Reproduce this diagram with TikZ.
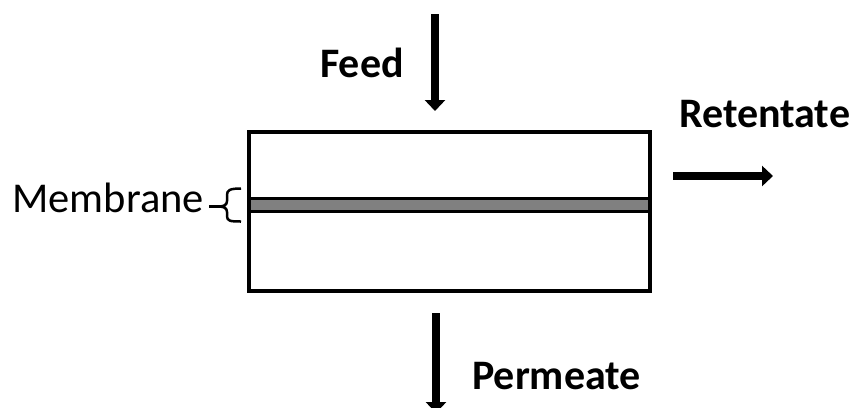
\documentclass[tikz,border=0pt]{standalone}
\usepackage{fontspec}
\setmainfont{Carlito}
\usetikzlibrary{arrows.meta}
\definecolor{membgray}{RGB}{128,128,128}
\tikzset{
  lbl/.style={inner sep=0pt, font=\fontsize{42bp}{50bp}\selectfont\bfseries},
  lblreg/.style={inner sep=0pt, font=\fontsize{42.5bp}{50bp}\selectfont},
  flow/.style={line width=8bp, -{Triangle[width=20bp,length=11bp]}},
  boxline/.style={line width=4bp},
}
\begin{document}
\begin{tikzpicture}[x=1bp,y=-1bp]
\useasboundingbox (0,0) rectangle (851,407);
\clip (0,0) rectangle (851,407);
% membrane band
\fill[membgray] (250,198) rectangle (649,212) node[coordinate] (membc) {};
\draw[line width=3bp] (250,198.5) coordinate (ml1) -- (649,198.5) coordinate (mr1);
\draw[line width=3bp] (250,211.5) coordinate (ml2) -- (649,211.5) coordinate (mr2);
% module box
\node[boxline, draw, minimum width=401bp, minimum height=159bp, inner sep=0pt] (box) at (449.5,211.5) {};
% labels
\node[lbl, anchor=base west] (feed) at (320,77) {Feed};
\node[lbl, anchor=base west] (ret) at (679,127) {Retentate};
\node[lbl, anchor=base west] (perm) at (472,389) {Permeate};
\node[lblreg, anchor=base east] (memb) at (204,212) {Membrane};
% arrows
\coordinate (f1) at (435,14);
\coordinate (f2) at (435,111);
\coordinate (r1) at (673,176);
\coordinate (r2) at (773,176);
\coordinate (p1) at (436,313);
\coordinate (p2) at (436,413);
\draw[flow] (f1) -- (f2);
\draw[flow] (r1) -- (r2);
\draw[flow] (p1) -- (p2);
% brace
\coordinate (b1) at (241,188.5);
\coordinate (b2) at (241,221.5);
\coordinate (btip) at (218,206.5);
\coordinate (bdash) at (209,206.5);
\draw[line width=2.5bp, line join=round] (b1) .. controls (230,188.5) and (227,190) .. (227,195) -- (227,201) .. controls (227,205) and (224,206.5) .. (btip) .. controls (224,206.5) and (227,208) .. (227,212) -- (227,216) .. controls (227,221) and (230,221.5) .. (b2);
\draw[line width=2.5bp] (bdash) -- (btip);
\end{tikzpicture}
\end{document}
